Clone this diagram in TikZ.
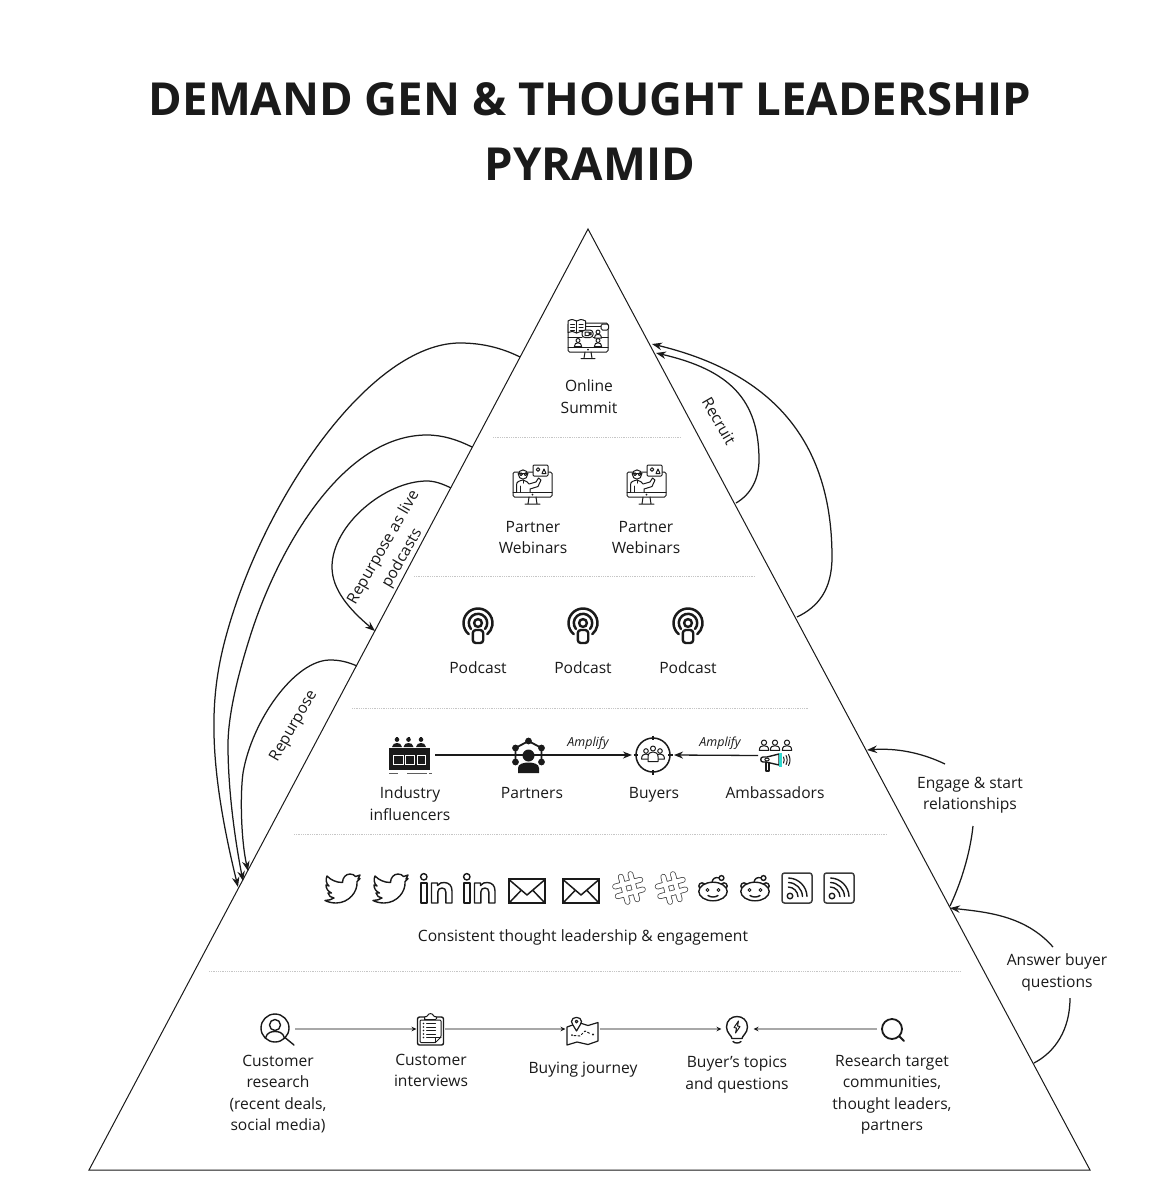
\documentclass[tikz,border=0pt]{standalone}
\usepackage{fontspec}
\setmainfont{Open Sans}
\usetikzlibrary{arrows.meta}
\definecolor{ink}{HTML}{1A1A1A}
\definecolor{sepgray}{HTML}{C6C6C6}
\definecolor{wiregray}{HTML}{A8A8A8}
\definecolor{teal}{HTML}{2FD9CF}
\tikzset{
  pyr/.style={draw=ink,line width=1pt,line join=miter},
  sep/.style={draw=sepgray,line width=0.8pt,dash pattern=on 1pt off 0.8pt},
  curve/.style={draw=ink,line width=1.25pt},
  curvearrow/.style={curve,-{Stealth[length=10pt,width=7.5pt]}},
  flowdark/.style={draw=ink,line width=1.3pt,-{Stealth[length=9pt,width=7pt]}},
  flowgray/.style={draw=wiregray,line width=1.2pt,-{Stealth[length=5pt,width=4.5pt,color=ink]}},
  lbl/.style={text=ink,inner sep=0pt,align=center,font=\fontsize{15.6}{21.4}\selectfont},
  one/.style={text height=12pt,text depth=4pt},
  amp/.style={text=ink,inner sep=0pt,font=\fontsize{12.5}{15}\selectfont\itshape},
  ttl/.style={text=ink,inner sep=0pt,align=center,font=\fontsize{45.5}{65}\selectfont\bfseries},
  iconbox/.style={inner sep=0pt,minimum width=#1,outer sep=0pt},
  il/.style={draw=ink,line width=1pt,line join=round,line cap=round},
  ib/.style={draw=ink,line width=1.4pt,line join=round,line cap=round},
  person/.pic={
    \draw[il,fill=white] (0,0) circle (2);
    \draw[il,fill=white] (-3.6,6) .. controls (-3.6,3) and (-2,2.4) .. (0,2.4) .. controls (2,2.4) and (3.6,3) .. (3.6,6) -- cycle;
  },
  bird/.pic={
    \draw[ib] (17.5,9) .. controls (17.5,4) and (21,0.5) .. (25,0.5) .. controls (27.5,0.5) and (29.5,1.5) .. (30.5,3) -- (35,1.5) -- (33,5.5) -- (35,5) -- (32,8) .. controls (33,18) and (24,29.5) .. (11,29.5) .. controls (7,29.5) and (3,28.5) .. (0,27) .. controls (3.5,27) and (6.5,26) .. (9,24.5) .. controls (6,24) and (3.5,22.5) .. (3,19.5) -- (6.5,19.5) .. controls (3,18) and (1,15) .. (1,11.5) -- (4,12.5) .. controls (1,10) and (0.5,6) .. (2,2.5) .. controls (6,6.5) and (11,9) .. (17.5,9) -- cycle;
  },
  linkedin/.pic={
    \draw[ib] (3.8,3.8) circle (3.2);
    \draw[ib] (0.8,10) rectangle (6.8,30);
    \draw[ib] (11.5,10) -- (17.5,10) -- (17.5,12.5) .. controls (19,10) and (22,9.3) .. (24.5,9.5) .. controls (29,9.8) and (32,12.5) .. (32,18) -- (32,30) -- (25.8,30) -- (25.8,19) .. controls (25.8,16.5) and (24.5,15) .. (22,15) .. controls (19.5,15) and (17.8,16.5) .. (17.8,19) -- (17.8,30) -- (11.5,30) -- cycle;
  },
  envelope/.pic={
    \draw[draw=ink,line width=1.5pt,line join=miter] (0,0) rectangle (36,24);
    \draw[draw=ink,line width=1.5pt,line join=round] (0.5,1) -- (18,16) -- (35.5,1);
    \draw[draw=ink,line width=1.5pt] (0.5,23.5) -- (12,11.5) (35.5,23.5) -- (24,11.5);
  },
  hash/.pic={
    \begin{scope}[rotate=15]
      \draw[draw=ink!80,line width=5.8pt,line cap=round] (-5,-13) -- (-5,13) (5,-13) -- (5,13) (-13,-5) -- (13,-5) (-13,5) -- (13,5);
      \draw[draw=white,line width=4.2pt,line cap=round] (-5,-13) -- (-5,13) (5,-13) -- (5,13) (-13,-5) -- (13,-5) (-13,5) -- (13,5);
    \end{scope}
  },
  reddit/.pic={
    \draw[ib,fill=white] (4,11) circle (3.2);
    \draw[ib,fill=white] (26,11) circle (3.2);
    \draw[ib,fill=white] (15,16.5) ellipse (14.2 and 9.3);
    \draw[ib] (14,7.2) .. controls (15,3) and (17,2.2) .. (21,2.8);
    \draw[ib,fill=white] (23.5,3) circle (2.4);
    \draw[il] (9.5,15) circle (1.5) (20.5,15) circle (1.5);
    \draw[ib] (10,20.5) .. controls (12.5,22.5) and (17.5,22.5) .. (20,20.5);
  },
  rssbox/.pic={
    \draw[draw=ink!85,line width=1.5pt,rounded corners=2.5pt] (0,0) rectangle (30,30);
    \draw[ib] (8,23) circle (2.8);
    \foreach \r in {10,14.5,19}{\draw[ib] (6,24)+(-88:\r) arc (-88:-2:\r);}
  },
  podcast/.pic={
    \draw[draw=ink,line width=2.5pt,line cap=round] (0,0)+(130:14.5) arc (130:410:14.5);
    \draw[draw=ink,line width=2.5pt,line cap=round] (0,0)+(140:9.2) arc (140:400:9.2);
    \draw[draw=ink,line width=2.4pt] (0,0) circle (3.9);
    \draw[draw=ink,line width=2.4pt,rounded corners=3pt] (-5.2,7) rectangle (5.2,20);
  },
  webinar/.pic={
    \draw[il,rounded corners=1.5pt] (0,7) rectangle (39,32);
    \draw[il] (0,27) -- (39,27);
    \fill[ink] (19.5,29.6) circle (0.9);
    \draw[il] (16,32) -- (15,39) (23,32) -- (24,39) (12,39.2) -- (27,39.2);
    \draw[il,fill=white,rounded corners=1pt] (20,0) rectangle (35,11);
    \draw[il] (25,4.5) circle (1.8);
    \draw[il] (29,8.5) -- (31,4) -- (33,8.5) -- cycle;
    \draw[il,fill=white] (10,9.5) circle (4.6);
    \draw[il] (5,8) -- (15,8);
    \draw[il] (8,9.2) circle (1.4) (12.5,9.2) circle (1.4);
    \draw[il,fill=white] (3.5,27) -- (3.5,20) .. controls (3.5,16.5) and (6,16) .. (10,15) .. controls (13,16) and (15,17) .. (16,19) -- (23,17) -- (25.5,13) -- (28,15) -- (25,21.5) -- (17,24) -- (17,27);
    \draw[il] (10,15) -- (10,18) (7,21) -- (7,27);
  },
  summit/.pic={
    \draw[il,rounded corners=1.5pt] (0,4) rectangle (40,33);
    \draw[il] (0,28) -- (40,28) (18,7) -- (34,7) (0,18) -- (14,18) (25,18) -- (40,18);
    \fill[ink] (20,30.6) circle (0.9);
    \draw[il] (17,33) -- (16,39) (23,33) -- (24,39) (13,39.5) -- (27,39.5);
    \draw[il,fill=white] (0,2) .. controls (3,0) and (6,0) .. (8.7,2) .. controls (11,0) and (14,0) .. (17.5,2) -- (17.5,13.5) .. controls (14,12) and (11,12) .. (8.7,14) .. controls (6,12) and (3,12) .. (0,13.5) -- cycle;
    \draw[il] (8.7,2) -- (8.7,14) (2.5,5) -- (6.5,5) (2.5,8) -- (6.5,8) (2.5,11) -- (6.5,11) (11,5) -- (15,5) (11,8) -- (15,8) (11,11) -- (15,11);
    \draw[il,fill=white,rounded corners=1.5pt] (33,5) rectangle (40.5,11);
    \draw[il,fill=white,rounded corners=3pt] (14,11) rectangle (25,18.5);
    \draw[il] (17,13) rectangle (21,16.5) (21,14.5) -- (23,13.5) -- (23,16) -- cycle;
    \pic at (30,13) {person};
    \pic at (10,21.5) {person};
    \pic at (30,21.5) {person};
  },
  influencers/.pic={
    \fill[ink] (0,11) rectangle (41,33);
    \draw[draw=white,line width=1pt] (4.5,18) rectangle (14,27) (16.5,18) rectangle (25,27) (28,18) rectangle (36.5,27);
    \draw[draw=ink!70,line width=1pt] (0,36) -- (9,36) (18,36) -- (38,36) (40,36) -- (43,36);
    \foreach \x in {8,19.5,32}{
      \fill[ink] (\x,2.6) circle (2.3);
      \fill[ink] (\x-1,0.2) rectangle (\x+1,1);
      \fill[ink] (\x-5,10) .. controls (\x-4.5,7) and (\x-2.5,6) .. (\x,6) .. controls (\x+2.5,6) and (\x+4.5,7) .. (\x+5,10) -- cycle;
    }
  },
  network/.pic={
    \draw[draw=ink,line width=1.8pt] (0,-16) -- (-13,-9) -- (-13,5) (0,-16) -- (13,-9) -- (13,5);
    \foreach \x/\y in {0/-16,-13/-9,-13/5,13/-9,13/5}{\fill[ink] (\x,\y) circle (3.4);}
    \fill[ink] (0,-1.5) circle (6);
    \fill[ink] (-10.5,16) -- (-10.5,11) .. controls (-10.5,7) and (-5,5.5) .. (0,5.5) .. controls (5,5.5) and (10.5,7) .. (10.5,11) -- (10.5,16) -- cycle;
  },
  buyersicon/.pic={
    \draw[draw=ink,line width=1.5pt] (0,0) circle (17);
    \draw[draw=ink,line width=1.2pt] (0,-19.5) -- (0,-15) (0,15) -- (0,19.5) (-19.5,0) -- (-15,0) (15,0) -- (19.5,0);
    \foreach \x/\y in {-7/-4,7/-4}{\draw[il,fill=white] (\x,\y) circle (2.3);
      \draw[il,fill=white] (\x-4.5,\y+8) .. controls (\x-4.5,\y+4) and (\x-2,\y+3) .. (\x,\y+3) .. controls (\x+2,\y+3) and (\x+4.5,\y+4) .. (\x+4.5,\y+8) -- cycle;}
    \draw[il,fill=white] (0,-6.5) circle (2.5);
    \draw[il,fill=white] (-5,6.5) -- (-5,1.5) .. controls (-5,-2) and (-2,-3) .. (0,-3) .. controls (2,-3) and (5,-2) .. (5,1.5) -- (5,6.5) -- cycle;
  },
  ambassador/.pic={
    \pic[scale=1.3] at (6,2.6) {person};
    \pic[scale=1.3] at (17,2.6) {person};
    \pic[scale=1.3] at (29,2.6) {person};
    \draw[ib] (8,22) -- (5,22) .. controls (2,22) and (2,17) .. (5,17) -- (9,17) -- (21,14) -- (21,25) -- cycle;
    \draw[il] (9,19.5) ellipse (2.2 and 1.4);
    \draw[ib] (8,22) -- (8,31) -- (11,31) -- (11,22.5);
    \fill[teal] (20.5,13) rectangle (23.5,27);
    \draw[il] (25.5,17) .. controls (26.5,18.5) and (26.5,21.5) .. (25.5,23) (28,15.5) .. controls (29.5,18) and (29.5,22) .. (28,24.5) (30.5,14.5) .. controls (32.5,17.5) and (32.5,22.5) .. (30.5,25.5);
  },
  searchperson/.pic={
    \draw[ib] (0,0) circle (14);
    \draw[ib] (0,-3) circle (5.5);
    \draw[ib] (-9.5,10) .. controls (-8,4) and (-3,3.5) .. (0,3.5) .. controls (3,3.5) and (8,4) .. (9.5,10);
    \draw[ib] (10.5,10) -- (19,17);
  },
  clipboard/.pic={
    \draw[ib,rounded corners=2pt] (0,3) rectangle (26,31);
    \draw[il,rounded corners=1pt] (2.5,6) -- (2.5,28.5) -- (18,28.5) -- (23.5,23) -- (23.5,6) -- cycle;
    \draw[il] (18,28.5) -- (18,23) -- (23.5,23);
    \draw[il,fill=white,rounded corners=1pt] (7,4.5) -- (7,2.5) -- (10,2.5) .. controls (10.5,-1) and (15.5,-1) .. (16,2.5) -- (19,2.5) -- (19,5.5) -- (7,5.5) -- cycle;
    \foreach \y in {9.5,13,16.5,20,23.5}{\fill[ink] (6,\y) circle (0.8); \draw[il] (9,\y) -- (18,\y);}
  },
  mapicon/.pic={
    \draw[il,line width=1.2pt] (7,7.5) -- (0,10) -- (0,28) -- (10,25) -- (21,27.5) -- (31,24) -- (31,5.5) -- (21,8.5) -- (13,6);
    \draw[il,fill=white,line width=1.2pt] (9.5,14) .. controls (6,8) and (4.5,6) .. (4.5,4.5) .. controls (4.5,-1) and (14.5,-1) .. (14.5,4.5) .. controls (14.5,6) and (13,8) .. (9.5,14) -- cycle;
    \draw[il] (9.5,4.5) circle (1.4);
    \fill[ink] (26,17.5) circle (1.2) (5,18) circle (1);
    \draw[il,dash pattern=on 2pt off 2pt] (7,18.5) -- (13,19) -- (18,14) -- (24,17);
  },
  bulb/.pic={
    \draw[ib] (-5,11.5) .. controls (-5,9) and (-10.5,6) .. (-10.5,0) .. controls (-10.5,-14) and (10.5,-14) .. (10.5,0) .. controls (10.5,6) and (5,9) .. (5,11.5) -- cycle;
    \draw[ib] (-4,14.5) .. controls (-2,16.5) and (2,16.5) .. (4,14.5);
    \draw[il] (1.5,-6) -- (-3,0.5) -- (-0.5,1) -- (-1.5,6) -- (3,-0.5) -- (0.5,-1) -- cycle;
  },
  magnifier/.pic={
    \draw[draw=ink,line width=1.8pt] (0,0) circle (10);
    \draw[draw=ink,line width=2pt,line cap=round] (7.2,7.2) -- (12,12);
  },
}
\begin{document}
\begin{tikzpicture}[x=1pt,y=-1pt]
\useasboundingbox (0,0) rectangle (1155,1200);
\fill[white] (0,0) rectangle (1155,1200);

% title
\node[ttl] (title) at (590,131.5) {DEMAND GEN \& THOUGHT LEADERSHIP\\PYRAMID};

% pyramid
\coordinate (apex) at (588,229);
\coordinate (bl) at (89,1170);
\coordinate (br) at (1090,1170);
\draw[pyr] (apex) -- (br) -- (bl) -- cycle;

% dividers
\draw[sep] (493,437) -- (681,437);
\draw[sep] (414,576) -- (755,576);
\draw[sep] (352,708) -- (809,708);
\draw[sep] (294,834) -- (887,834);
\draw[sep] (209,971) -- (961,971);

% curved connectors, left side
\coordinate (sA) at (520,357);
\coordinate (eA) at (238,887);
\coordinate (sB) at (472,447);
\coordinate (eB) at (243,881);
\coordinate (sC) at (357,666);
\coordinate (eC) at (248,871);
\coordinate (sD) at (451,488);
\coordinate (eD) at (375,631);
\draw[curvearrow] (sA) .. controls (500,347) and (480,343) .. (460,343) .. controls (370,343) and (262,500) .. (225,640) .. controls (210,697) and (207,760) .. (eA);
\draw[curvearrow] (sB) .. controls (458,440) and (443,435) .. (427,435) .. controls (340,435) and (275,555) .. (249,640) .. controls (238,675) and (228,715) .. (228,745) .. controls (228,790) and (235,840) .. (eB);
\draw[curvearrow] (sC) .. controls (348,662) and (340,660) .. (330,660) .. controls (295,660) and (252,720) .. (243,773) .. controls (240,795) and (241,840) .. (eC);
\draw[curvearrow] (sD) .. controls (443,484) and (435,481) .. (427,481) .. controls (385,481) and (332,525) .. (332,567) .. controls (332,590) and (350,610) .. (eD);

% curved connectors, right side
\coordinate (sE) at (736,503);
\coordinate (eE) at (656,353);
\coordinate (sF) at (797,617);
\coordinate (eF) at (652,344);
\draw[curvearrow] (sE) .. controls (750,495) and (759,480) .. (759,460) .. controls (759,400) and (730,370) .. (eE);
\draw[curvearrow] (sF) .. controls (818,607) and (832,590) .. (832,557) .. controls (832,430) and (760,370) .. (eF);
\coordinate (sG) at (945,764);
\coordinate (eG) at (867,750);
\coordinate (sH) at (973,826);
\coordinate (eH) at (950,906);
\coordinate (sI) at (1053,947);
\coordinate (eI) at (950,908);
\coordinate (sJ) at (1070,998);
\coordinate (eJ) at (1034,1063);
\draw[curvearrow] (sG) .. controls (920,752) and (895,748) .. (eG);
\draw[curve] (sH) .. controls (970,855) and (960,885) .. (eH);
\draw[curvearrow] (sI) .. controls (1025,915) and (985,912) .. (eI);
\draw[curve] (sJ) .. controls (1070,1030) and (1055,1052) .. (eJ);

% tier 1
\pic at (568,319) {summit};
\node[lbl] (summitlbl) at (589,396.5) {Online\\Summit};

% tier 2
\pic at (513,465) {webinar};
\pic at (627,465) {webinar};
\node[lbl] (web1) at (533,537.5) {Partner\\Webinars};
\node[lbl] (web2) at (646,537.5) {Partner\\Webinars};

% tier 3
\pic at (478,623) {podcast};
\pic at (583,623) {podcast};
\pic at (688,623) {podcast};
\node[lbl,one] (pod1) at (478,669) {Podcast};
\node[lbl,one] (pod2) at (583,669) {Podcast};
\node[lbl,one] (pod3) at (688,669) {Podcast};

% tier 4
\node[iconbox=44pt,minimum height=36pt] (infl) at (413,755) {};
\node[iconbox=26pt,minimum height=30pt] (partners) at (528.5,757) {};
\node[iconbox=42pt,minimum height=36pt] (buyers) at (653,755) {};
\node[iconbox=34pt,minimum height=30pt] (amb) at (775,755.5) {};
\draw[flowdark] (infl.east) -- (buyers.west);
\draw[flowdark] (amb.west) -- (buyers.east);
\pic at (389,737) {influencers};
\pic at (528.5,757) {network};
\pic at (653,755) {buyersicon};
\pic at (758,740) {ambassador};
\node[amp] (amp1) at (588,743) {Amplify};
\node[amp] (amp2) at (720,743) {Amplify};
\node[lbl] (infllbl) at (410,803.5) {Industry\\influencers};
\node[lbl,one] (partlbl) at (532,794) {Partners};
\node[lbl,one] (buylbl) at (654,794) {Buyers};
\node[lbl,one] (amblbl) at (775,794) {Ambassadors};

% tier 5
\pic at (325,873.5) {bird};
\pic at (373,873.5) {bird};
\pic at (420,873) {linkedin};
\pic at (463,873) {linkedin};
\pic at (509,879) {envelope};
\pic at (563,879) {envelope};
\pic at (629,888) {hash};
\pic at (671.5,888) {hash};
\pic at (698,875) {reddit};
\pic at (740,875) {reddit};
\pic at (782,873) {rssbox};
\pic at (824,873) {rssbox};
\node[lbl,one] (consistent) at (583,937.5) {Consistent thought leadership \& engagement};

% tier 6
\node[iconbox=40pt,minimum height=30pt] (i1) at (275,1029) {};
\node[iconbox=28pt,minimum height=30pt] (i2) at (430.5,1029) {};
\node[iconbox=34pt,minimum height=30pt] (i3) at (582.5,1029) {};
\node[iconbox=32pt,minimum height=30pt] (i4) at (737.5,1029) {};
\node[iconbox=30pt,minimum height=30pt] (i5) at (892,1029) {};
\draw[flowgray] (i1.east) -- (i2.west);
\draw[flowgray] (i2.east) -- (i3.west);
\draw[flowgray] (i3.east) -- (i4.west);
\draw[flowgray] (i5.west) -- (i4.east);
\pic at (275,1028) {searchperson};
\pic at (417.5,1014) {clipboard};
\pic at (567,1017) {mapicon};
\pic at (737,1027) {bulb};
\pic at (892,1029) {magnifier};
\node[lbl] (l1) at (278,1094) {Customer\\research\\(recent deals,\\social media)};
\node[lbl] (l2) at (431,1070.5) {Customer\\interviews};
\node[lbl,one] (l3) at (583,1069.5) {Buying journey};
\node[lbl] (l4) at (737,1074.5) {Buyer's topics\\and questions};
\node[lbl] (l5) at (892,1094.5) {Research target\\communities,\\thought leaders,\\partners};

% side labels
\node[lbl] (engage) at (970,795.5) {Engage \& start\\relationships};
\node[lbl] (answer) at (1057,972.5) {Answer buyer\\questions};
\node[lbl,rotate=-60] (recruit) at (719,421) {Recruit};
\node[lbl,rotate=60] (live) at (393,553) {Repurpose as live\\podcasts};
\node[lbl,rotate=60] (repurpose) at (294,726) {Repurpose};
\end{tikzpicture}
\end{document}
